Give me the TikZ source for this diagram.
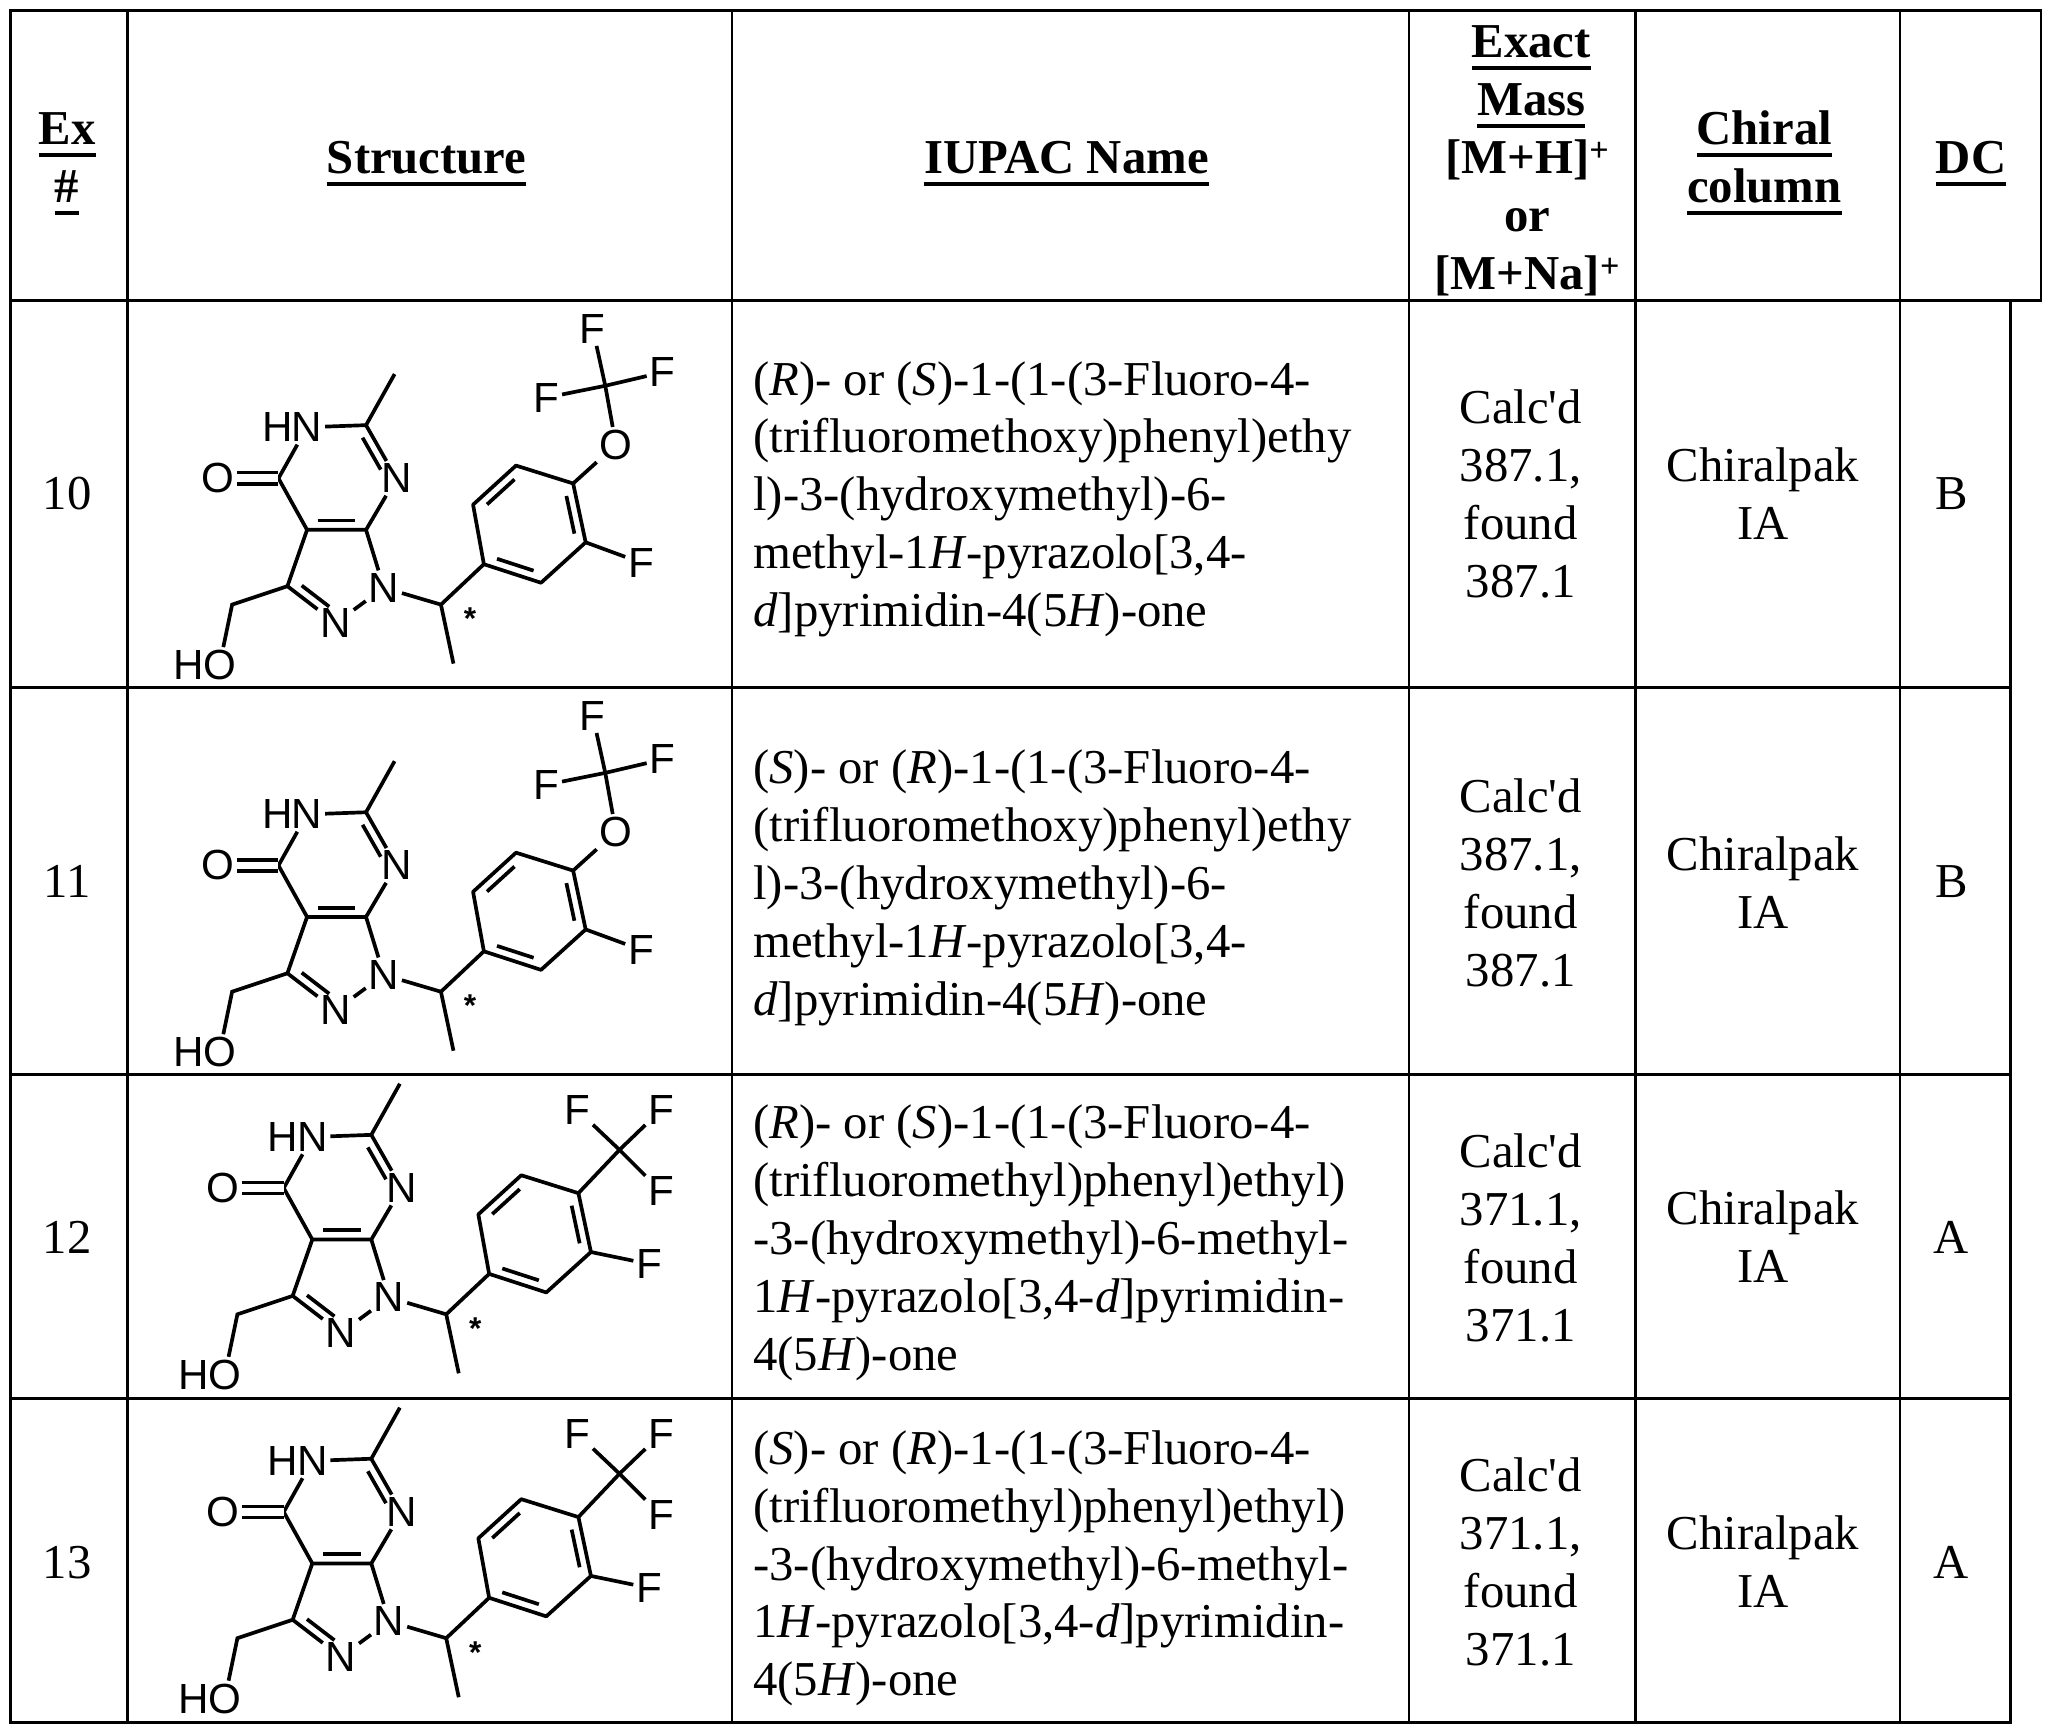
\documentclass[tikz,border=0pt]{standalone}
\usepackage{fontspec}
\setmainfont{Liberation Serif}
\newfontfamily\molfont{Liberation Sans}
\newcommand\uline[1]{\setbox0\hbox{#1}\leavevmode\rlap{\vrule height -6pt depth 9pt width \wd0}\box0}
\usetikzlibrary{calc}
\tikzset{
  grid/.style={line width=2pt},
  bond/.style={line width=2.8pt},
  lab/.style={font=\molfont\fontsize{32}{32}\selectfont, inner sep=2pt},
  txt/.style={font=\fontsize{37}{44}\selectfont, inner sep=0pt},
  hdr/.style={font=\bfseries\fontsize{37}{44}\selectfont, inner sep=0pt},
}
\newcommand\ap{\textquotesingle}
\newcommand\dbl[2]{\draw[bond] ($(#1)!.18!(#2)!7pt!90:(#2)$) -- ($(#1)!.82!(#2)!7pt!-90:(#1)$);}
\newcommand\molecule[3]{%
\begin{scope}[shift={(#1,#2)}]
 \coordinate (Me) at (299.7,284.1);
 \coordinate (C2) at (278.0,322.9);
 \node[lab] (N5) at (233.2,324.5) {N};
 \node[lab,anchor=east,inner sep=0pt] (H5) at ($(N5.west)+(3,0)$) {H};
 \node[lab] (N3) at (301.0,363.3) {N};
 \coordinate (C4) at (211.5,363.3);
 \node[lab] (O4) at (165.4,363.3) {O};
 \coordinate (C4a) at (233.2,402.4);
 \coordinate (C7a) at (278.0,402.4);
 \node[lab] (N1) at (291.5,446.4) {N};
 \node[lab] (N2) at (254.9,473.3) {N};
 \coordinate (C3) at (218.3,445.2);
 \coordinate (CH2) at (176.3,459.2);
 \node[lab] (OH) at (166.8,505.0) {O};
 \node[lab,anchor=east,inner sep=0pt] (HH) at ($(OH.west)+(3,0)$) {H};
 \coordinate (CH) at (334.9,459.2);
 \coordinate (CHMe) at (344.4,504.0);
 \node[font=\molfont\bfseries\fontsize{24}{24}\selectfont,inner sep=0pt] (st) at (357,470) {*};
 \coordinate (R1) at (367.5,428.5);
 \coordinate (R2) at (359.3,383.3);
 \coordinate (R3) at (391.9,353.6);
 \coordinate (R4) at (435.3,367.2);
 \coordinate (R5) at (444.8,411.9);
 \coordinate (R6) at (410.9,442.6);
 \draw[bond] (Me) -- (C2) -- (N5);
 \draw[bond] (C2) -- (N3) -- (C7a) -- (C4a) -- (C4) -- (N5);
 \draw[bond,double,double distance=6pt,line width=2.6pt] (C4) -- (O4);
 \draw[bond] (C7a) -- (N1) -- (N2) -- (C3) -- (C4a);
 \draw[bond] (C3) -- (CH2) -- (OH);
 \draw[bond] (N1) -- (CH) -- (CHMe);
 \draw[bond] (CH) -- (R1);
 \draw[bond,line join=round] (R1) -- (R2) -- (R3) -- (R4) -- (R5) -- (R6) -- cycle;
 \dbl{C4a}{C7a}
 \draw[bond] ($(N3)!.25!(C2)!7pt!90:(C2)$) -- ($(N3)!.85!(C2)!7pt!-90:(N3)$);
 \draw[bond] ($(C3)!.18!(N2)!7pt!90:(N2)$) -- ($(C3)!.75!(N2)!7pt!-90:(C3)$);
 \dbl{R1}{R6}
 \dbl{R5}{R4}
 \dbl{R3}{R2}
 \ifnum#3=1
  \node[lab] (Fr) at (486.8,427.3) {F};
  \draw[bond] (R5) -- (Fr);
  \node[lab] (Oe) at (467.8,337.8) {O};
  \coordinate (Cf) at (459.7,293.0);
  \node[lab] (Fa) at (450.2,249.5) {F};
  \node[lab] (Fb) at (503.1,282.8) {F};
  \node[lab] (Fc) at (414.9,302.0) {F};
  \draw[bond] (R4) -- (Oe) -- (Cf) -- (Fa);
  \draw[bond] (Cf) -- (Fb); \draw[bond] (Cf) -- (Fc);
 \else
  \node[lab] (Fr) at (489,421) {F};
  \draw[bond] (R5) -- (Fr);
  \coordinate (Cf) at (466.5,334.3);
  \node[lab] (Fa) at (434.4,303.9) {F};
  \node[lab] (Fb) at (498.1,303.9) {F};
  \node[lab] (Fc) at (498.1,365.9) {F};
  \draw[bond] (R4) -- (Cf) -- (Fa);
  \draw[bond] (Cf) -- (Fb); \draw[bond] (Cf) -- (Fc);
 \fi
\end{scope}}
\newcommand\cent[3]{% x, first baseline, list
 \foreach \t [count=\i] in {#3} {\node[txt,anchor=base] at (#1,#2+44*\i-44) {\t};}}
\newcommand\lft[2]{%
 \foreach \t [count=\i] in {#2} {\node[txt,anchor=base west] at (572,#1+44*\i-44) {\t};}}
\begin{document}
\begin{tikzpicture}[x=1pt,y=-1pt]
\useasboundingbox (0,0) rectangle (1560,1316);
\fill[white] (0,0) rectangle (1560,1316);
% grid
\draw[grid] (8,8) rectangle (1550,228);
\draw[grid] (8,228) -- (8,1308) -- (1527,1308) -- (1527,228);
\foreach \y in {522,816,1062} \draw[grid] (8,\y) -- (1527,\y);
\foreach \x in {97,556,1070,1242,1443} \draw[grid] (\x,8) -- (\x,1308);
% header
\node[hdr,anchor=base] at (51,110) {\uline{Ex}};
\node[hdr,anchor=base] at (51,154) {\uline{\#}};
\node[hdr,anchor=base] at (324,132) {\uline{Structure}};
\node[hdr,anchor=base] at (810,132) {\uline{IUPAC Name}};
\node[hdr,anchor=base] at (1163,44) {\uline{Exact}};
\node[hdr,anchor=base] at (1163,88) {\uline{Mass}};
\node[hdr,anchor=base] at (1160,132) {[M+H]\textsuperscript{+}};
\node[hdr,anchor=base] at (1160,176) {or};
\node[hdr,anchor=base] at (1160,220) {[M+Na]\textsuperscript{+}};
\node[hdr,anchor=base] at (1340,110) {\uline{Chiral}};
\node[hdr,anchor=base] at (1340,154) {\uline{column}};
\node[hdr,anchor=base] at (1497,132) {\uline{DC}};
% rows
\molecule{0}{0}{1}
\molecule{0}{294}{1}
\molecule{4}{539}{2}
\molecule{4}{785}{2}
\cent{51}{387}{10}
\cent{51}{682}{11}
\cent{51}{952}{12}
\cent{51}{1199}{13}
\lft{300}{{(\textit{R})- or (\textit{S})-1-(1-(3-Fluoro-4-},{(trifluoromethoxy)phenyl)ethy},{l)-3-(hydroxymethyl)-6-},{methyl-1\textit{H}-pyrazolo[3,4-},{\textit{d}]pyrimidin-4(5\textit{H})-one}}
\lft{595}{{(\textit{S})- or (\textit{R})-1-(1-(3-Fluoro-4-},{(trifluoromethoxy)phenyl)ethy},{l)-3-(hydroxymethyl)-6-},{methyl-1\textit{H}-pyrazolo[3,4-},{\textit{d}]pyrimidin-4(5\textit{H})-one}}
\lft{865}{{(\textit{R})- or (\textit{S})-1-(1-(3-Fluoro-4-},{(trifluoromethyl)phenyl)ethyl)},{-3-(hydroxymethyl)-6-methyl-},{1\textit{H}-pyrazolo[3,4-\textit{d}]pyrimidin-},{4(5\textit{H})-one}}
\lft{1112}{{(\textit{S})- or (\textit{R})-1-(1-(3-Fluoro-4-},{(trifluoromethyl)phenyl)ethyl)},{-3-(hydroxymethyl)-6-methyl-},{1\textit{H}-pyrazolo[3,4-\textit{d}]pyrimidin-},{4(5\textit{H})-one}}
\cent{1155}{322}{{Calc\ap d},{387.1,},{found},{387.1}}
\cent{1155}{617}{{Calc\ap d},{387.1,},{found},{387.1}}
\cent{1155}{887}{{Calc\ap d},{371.1,},{found},{371.1}}
\cent{1155}{1133}{{Calc\ap d},{371.1,},{found},{371.1}}
\cent{1339}{366}{{Chiralpak},{IA}}
\cent{1339}{661}{{Chiralpak},{IA}}
\cent{1339}{930}{{Chiralpak},{IA}}
\cent{1339}{1177}{{Chiralpak},{IA}}
\cent{1482}{387}{B}
\cent{1482}{682}{B}
\cent{1482}{952}{A}
\cent{1482}{1199}{A}
\end{tikzpicture}
\end{document}
